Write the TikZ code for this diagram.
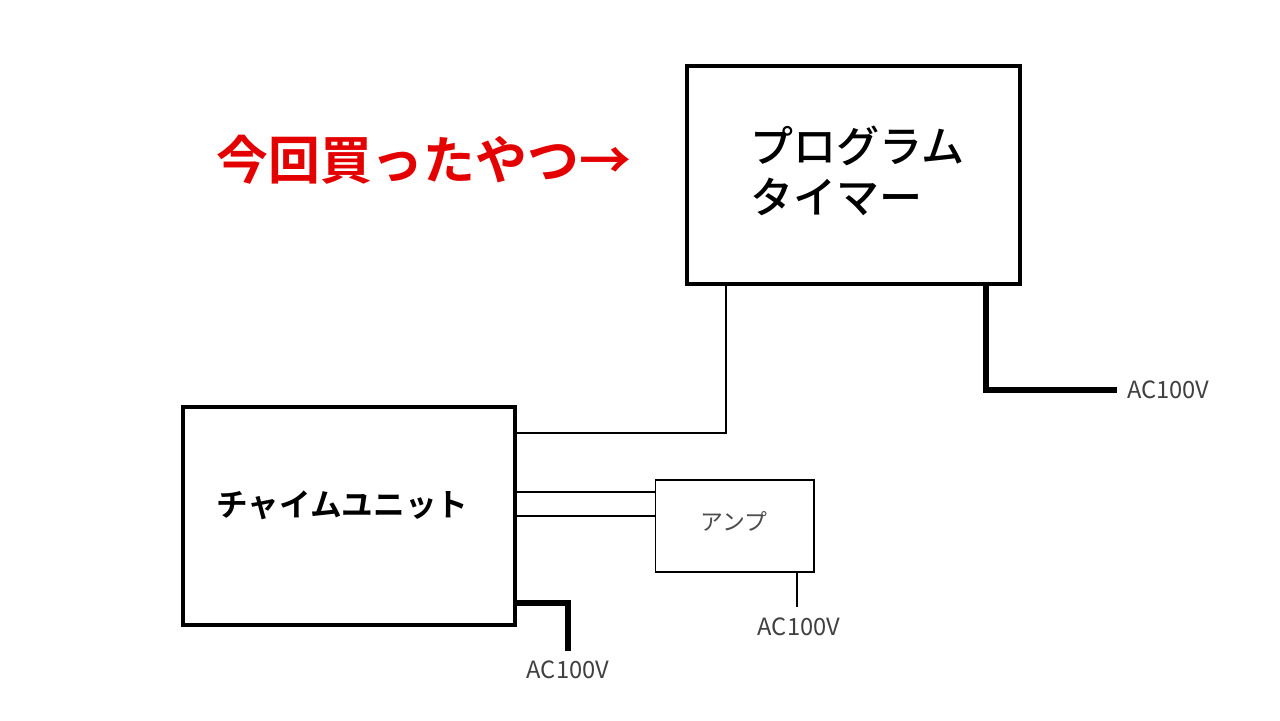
\documentclass[tikz,border=0pt]{standalone}
\usepackage{fontspec}
\setmainfont{Noto Sans CJK JP}
\newfontfamily\jpbold{Noto Sans CJK JP Bold}
\newfontfamily\jpmed{Noto Sans CJK JP Medium}
\usetikzlibrary{positioning}
\tikzset{
    unit/.style={rectangle, draw=black, line width=2pt, fill=white, inner sep=0pt},
    amp/.style={rectangle, draw=black, line width=0.6pt, fill=white, inner sep=0pt},
    wire/.style={line width=1.6pt},
    power/.style={line width=3pt},
    sig/.style={line width=0.8pt},
    acl/.style={font=\fontsize{13.5}{16}\selectfont, text=black!75, inner sep=1pt}
}
\begin{document}
\begin{tikzpicture}[x=0.02cm, y=-0.02cm]
    \useasboundingbox (0,0) rectangle (1280,720);
    % Boxes
    \node[unit, minimum width=6.66cm, minimum height=4.36cm] (T) at (853.5,175) {};
    \node[unit, minimum width=6.64cm, minimum height=4.36cm] (C) at (349,516) {};
    \node[amp, minimum width=3.18cm, minimum height=1.84cm] (A) at (734.5,526) {};
    % Texts
    \node[anchor=west, align=left, font=\jpmed\fontsize{24.5}{29}\selectfont, inner sep=0pt] (Tt) at (750,171) {プログラム\\タイマー};
    \node[anchor=west, font=\jpbold\fontsize{18}{21}\selectfont, inner sep=0pt] (Ct) at (216,505) {チャイムユニット};
    \node[font=\fontsize{13}{15}\selectfont, text=black!70] (At) at (734,521) {アンプ};
    \node[anchor=west, font=\jpbold\fontsize{29.5}{34}\selectfont, text=red!90!black, inner sep=0pt] (Nt) at (216,160) {今回買ったやつ→};
    % Coordinates
    \coordinate (t1) at (726,284);
    \coordinate (t2) at (986,284);
    \coordinate (c1) at (515,433);
    \coordinate (c2) at (515,603);
    \coordinate (c3) at (515,492);
    \coordinate (c4) at (515,516);
    \coordinate (a1) at (655,492);
    \coordinate (a2) at (655,516);
    \coordinate (a3) at (797,572);
    \node[acl, anchor=west] (P1) at (1125,390) {AC100V};
    \node[acl] (P2) at (799,627) {AC100V};
    \node[acl] (P3) at (568,670) {AC100V};
    % Edges
    \draw[wire] (t1) |- (c1);
    \draw[power] (t2) |- (1117,390);
    \draw[power] (c2) -| (568,651);
    \draw[sig] (c3) -- (a1);
    \draw[sig] (c4) -- (a2);
    \draw[wire] (a3) -- (797,607);
\end{tikzpicture}
\end{document}
